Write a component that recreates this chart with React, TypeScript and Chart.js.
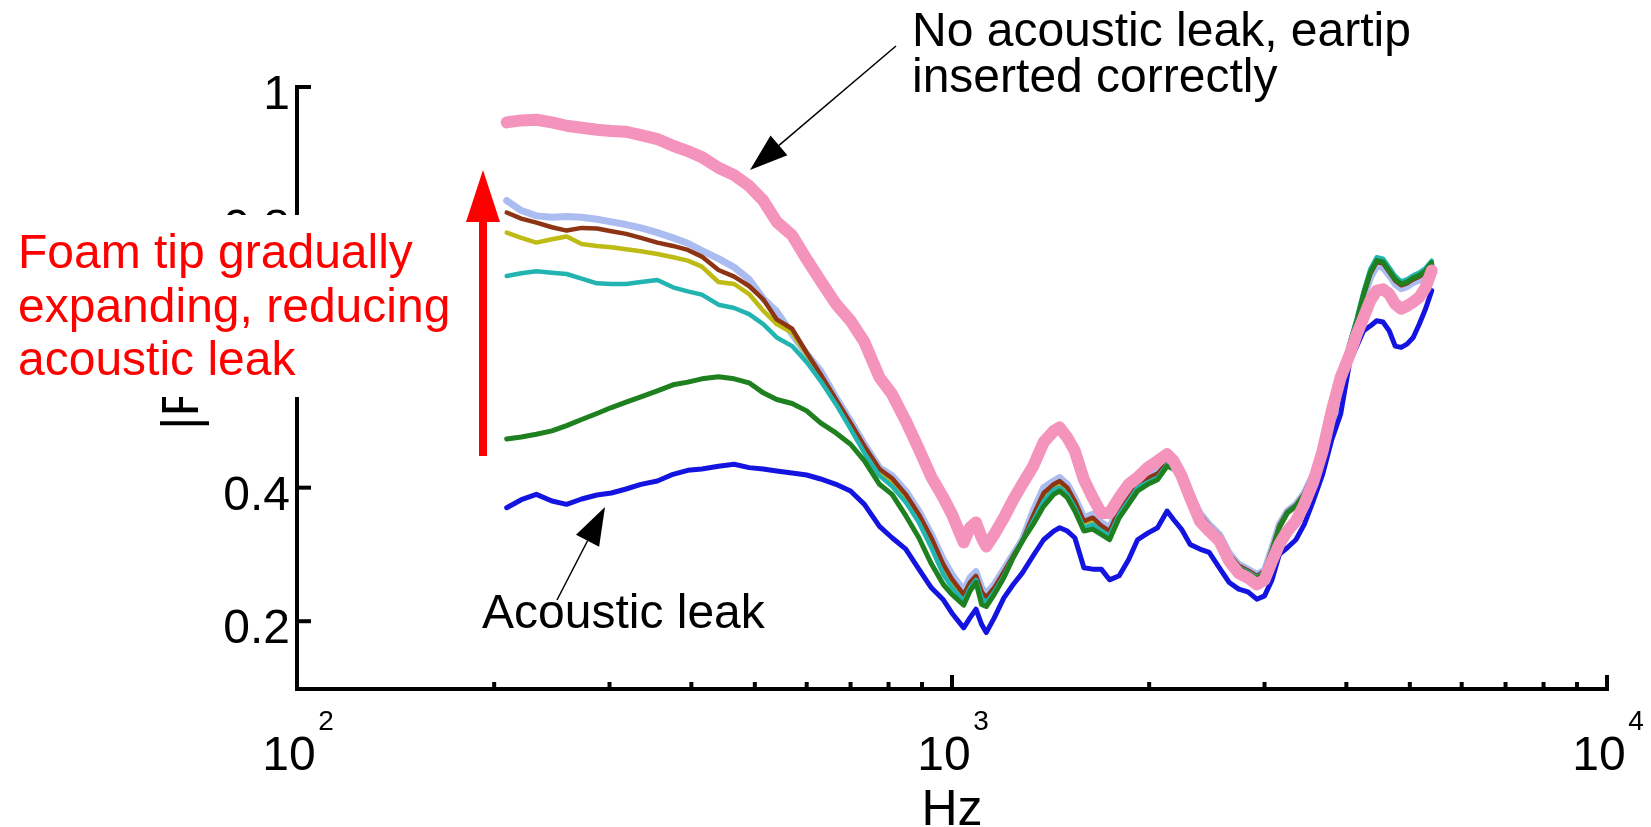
import React, { useEffect, useRef } from "react";
import { Chart, registerables } from "chart.js";

Chart.register(...registerables);

// Frequency grid (Hz)
const FREQ_HZ = [
  209, 220, 232, 245, 258, 272, 287, 302, 318, 335,
  355, 375, 395, 415, 440, 465, 490, 515, 540, 570,
  600, 630, 665, 700, 735, 775, 810, 850, 890, 930,
  970, 1000, 1042, 1065, 1088, 1110, 1128, 1160, 1200, 1240,
  1280, 1330, 1380, 1430, 1460, 1500, 1540, 1590, 1640, 1690,
  1740, 1800, 1860, 1920, 1990, 2060, 2130, 2180, 2240, 2310,
  2390, 2470, 2560, 2650, 2740, 2830, 2920, 3000, 3080, 3160,
  3250, 3350, 3450, 3560, 3680, 3800, 3920, 4050, 4150, 4250,
  4350, 4450, 4550, 4650, 4750, 4850, 4950, 5060, 5170, 5285,
  5400,
];

// No acoustic leak, eartip inserted correctly (pink)
const PINK_SEALED = [
  0.947, 0.950, 0.951, 0.947, 0.942, 0.939, 0.936, 0.934, 0.933, 0.928,
  0.922, 0.912, 0.904, 0.895, 0.879, 0.868, 0.852, 0.830, 0.798, 0.778,
  0.742, 0.710, 0.675, 0.650, 0.618, 0.565, 0.540, 0.500, 0.458, 0.416,
  0.385, 0.360, 0.318, 0.340, 0.348, 0.325, 0.312, 0.330, 0.355, 0.382,
  0.405, 0.432, 0.468, 0.485, 0.490, 0.475, 0.455, 0.412, 0.385, 0.362,
  0.362, 0.385, 0.405, 0.415, 0.430, 0.440, 0.450, 0.440, 0.418, 0.385,
  0.350, 0.335, 0.320, 0.290, 0.272, 0.265, 0.255, 0.262, 0.290, 0.315,
  0.335, 0.350, 0.375, 0.408, 0.455, 0.515, 0.565, 0.600, 0.630, 0.655,
  0.680, 0.695, 0.697, 0.690, 0.675, 0.668, 0.672, 0.678, 0.685, 0.700,
  0.725,
];

// Acoustic leak (blue)
const BLUE_LEAK = [
  0.370, 0.382, 0.390, 0.380, 0.375, 0.383, 0.389, 0.392, 0.398, 0.405,
  0.410, 0.420, 0.426, 0.428, 0.432, 0.435, 0.430, 0.428, 0.425, 0.422,
  0.419, 0.413, 0.405, 0.395, 0.375, 0.342, 0.325, 0.308, 0.278, 0.250,
  0.232, 0.212, 0.190, 0.205, 0.218, 0.195, 0.183, 0.205, 0.235, 0.255,
  0.272, 0.298, 0.322, 0.335, 0.340, 0.335, 0.325, 0.280, 0.278, 0.278,
  0.262, 0.268, 0.292, 0.322, 0.332, 0.340, 0.365, 0.352, 0.338, 0.315,
  0.308, 0.303, 0.280, 0.258, 0.248, 0.244, 0.233, 0.238, 0.262, 0.300,
  0.310, 0.322, 0.345, 0.380, 0.420, 0.472, 0.510, 0.590, 0.612, 0.635,
  0.642, 0.650, 0.648, 0.635, 0.612, 0.610, 0.615, 0.625, 0.645, 0.668,
  0.695,
];

const GREEN_STEP1 = [
  0.473, 0.476, 0.480, 0.485, 0.493, 0.502, 0.511, 0.520, 0.528, 0.536,
  0.545, 0.554, 0.558, 0.563, 0.566, 0.563, 0.557, 0.542, 0.532, 0.526,
  0.515, 0.497, 0.482, 0.465, 0.440, 0.405, 0.390, 0.358, 0.325, 0.286,
  0.255, 0.240, 0.224, 0.245, 0.258, 0.225, 0.222, 0.240, 0.265, 0.295,
  0.320, 0.345, 0.372, 0.390, 0.395, 0.385, 0.365, 0.335, 0.338, 0.330,
  0.322, 0.355, 0.375, 0.395, 0.405, 0.412, 0.432, 0.428, 0.415, 0.388,
  0.357, 0.340, 0.325, 0.298, 0.280, 0.272, 0.264, 0.272, 0.305, 0.340,
  0.362, 0.372, 0.390, 0.418, 0.450, 0.492, 0.558, 0.615, 0.650, 0.690,
  0.722, 0.740, 0.738, 0.725, 0.712, 0.705, 0.708, 0.714, 0.718, 0.725,
  0.737,
];

const TEAL_STEP2 = [
  0.717, 0.721, 0.724, 0.722, 0.720, 0.713, 0.706, 0.705, 0.705, 0.708,
  0.711, 0.700, 0.694, 0.689, 0.674, 0.669, 0.660, 0.645, 0.625, 0.612,
  0.588, 0.560, 0.525, 0.488, 0.452, 0.418, 0.402, 0.378, 0.348, 0.310,
  0.270, 0.250, 0.230, 0.250, 0.262, 0.235, 0.228, 0.244, 0.268, 0.296,
  0.320, 0.350, 0.380, 0.397, 0.400, 0.390, 0.370, 0.340, 0.345, 0.335,
  0.328, 0.360, 0.380, 0.400, 0.408, 0.415, 0.434, 0.429, 0.416, 0.389,
  0.358, 0.341, 0.326, 0.299, 0.281, 0.274, 0.266, 0.273, 0.306, 0.341,
  0.363, 0.373, 0.390, 0.419, 0.451, 0.493, 0.560, 0.618, 0.654, 0.694,
  0.727, 0.745, 0.743, 0.730, 0.717, 0.709, 0.712, 0.718, 0.722, 0.729,
  0.740,
];

const YELLOW_STEP3 = [
  0.782, 0.774, 0.767, 0.772, 0.776, 0.765, 0.762, 0.760, 0.757, 0.754,
  0.750, 0.745, 0.740, 0.731, 0.708, 0.705, 0.690, 0.665, 0.645, 0.632,
  0.600, 0.568, 0.530, 0.494, 0.458, 0.424, 0.410, 0.386, 0.355, 0.320,
  0.280, 0.258, 0.236, 0.254, 0.265, 0.240, 0.233, 0.247, 0.272, 0.296,
  0.318, 0.355, 0.388, 0.402, 0.406, 0.396, 0.377, 0.347, 0.352, 0.340,
  0.332, 0.365, 0.385, 0.403, 0.411, 0.418, 0.435, 0.429, 0.417, 0.389,
  0.359, 0.342, 0.327, 0.299, 0.282, 0.275, 0.267, 0.274, 0.307, 0.342,
  0.363, 0.373, 0.390, 0.419, 0.451, 0.493, 0.559, 0.616, 0.651, 0.691,
  0.723, 0.741, 0.739, 0.726, 0.713, 0.706, 0.709, 0.715, 0.719, 0.726,
  0.737,
];

const BROWN_STEP4 = [
  0.812, 0.803, 0.797, 0.790, 0.785, 0.789, 0.788, 0.784, 0.780, 0.774,
  0.767, 0.762, 0.756, 0.746, 0.726, 0.716, 0.702, 0.682, 0.652, 0.638,
  0.602, 0.570, 0.532, 0.497, 0.462, 0.428, 0.414, 0.390, 0.360, 0.325,
  0.285, 0.263, 0.240, 0.258, 0.268, 0.244, 0.236, 0.250, 0.274, 0.298,
  0.320, 0.358, 0.392, 0.405, 0.410, 0.400, 0.380, 0.350, 0.355, 0.343,
  0.335, 0.368, 0.388, 0.406, 0.414, 0.421, 0.437, 0.430, 0.418, 0.390,
  0.360, 0.343, 0.328, 0.300, 0.283, 0.276, 0.268, 0.275, 0.308, 0.343,
  0.364, 0.374, 0.391, 0.420, 0.452, 0.494, 0.560, 0.614, 0.648, 0.688,
  0.720, 0.738, 0.736, 0.723, 0.710, 0.703, 0.706, 0.712, 0.716, 0.723,
  0.736,
];

const LIGHTBLUE_STEP5 = [
  0.830, 0.815, 0.807, 0.805, 0.806, 0.805, 0.802, 0.798, 0.794, 0.789,
  0.782, 0.774, 0.766, 0.755, 0.743, 0.730, 0.712, 0.683, 0.664, 0.630,
  0.600, 0.575, 0.535, 0.500, 0.465, 0.430, 0.418, 0.395, 0.365, 0.330,
  0.292, 0.270, 0.246, 0.265, 0.274, 0.250, 0.241, 0.255, 0.278, 0.300,
  0.322, 0.365, 0.400, 0.410, 0.415, 0.405, 0.385, 0.355, 0.360, 0.348,
  0.340, 0.372, 0.392, 0.410, 0.418, 0.425, 0.440, 0.432, 0.420, 0.392,
  0.362, 0.345, 0.330, 0.302, 0.285, 0.278, 0.270, 0.276, 0.310, 0.345,
  0.365, 0.375, 0.392, 0.420, 0.452, 0.493, 0.558, 0.611, 0.644, 0.683,
  0.714, 0.732, 0.730, 0.718, 0.705, 0.698, 0.701, 0.707, 0.711, 0.718,
  0.732,
];

const Y_TICKS = [0.2, 0.4, 0.6, 0.8, 1];
const Y_TICK_LABELS = ["0.2", "0.4", "0.6", "0.8", "1"];
const X_DECADES = [100, 1000, 10000];
const X_DECADE_EXP = ["2", "3", "4"];
const X_LABEL = "Hz";
const Y_LABEL = "|FRF|";
const RED_NOTE = ["Foam tip gradually", "expanding, reducing", "acoustic leak"];
const TOP_NOTE = ["No acoustic leak, eartip", "inserted correctly"];
const LEAK_NOTE = "Acoustic leak";

const FONT = '"Liberation Sans", Arial, Helvetica, sans-serif';

function arrow(ctx: CanvasRenderingContext2D, fx: number, fy: number, tx: number, ty: number, len: number, half: number, lw: number, color: string) {
  const ang = Math.atan2(ty - fy, tx - fx);
  const bx = tx - Math.cos(ang) * len;
  const by = ty - Math.sin(ang) * len;
  ctx.strokeStyle = color;
  ctx.lineWidth = lw;
  ctx.beginPath();
  ctx.moveTo(fx, fy);
  ctx.lineTo(bx, by);
  ctx.stroke();
  ctx.fillStyle = color;
  ctx.beginPath();
  ctx.moveTo(tx, ty);
  ctx.lineTo(bx + Math.sin(ang) * half, by - Math.cos(ang) * half);
  ctx.lineTo(bx - Math.sin(ang) * half, by + Math.cos(ang) * half);
  ctx.closePath();
  ctx.fill();
}

const overlay = {
  id: "overlay",
  afterDraw(chart: any) {
    const ctx: CanvasRenderingContext2D = chart.ctx;
    const xs = chart.scales.x;
    const ys = chart.scales.y;
    const x0 = xs.getPixelForValue(100);
    const x1 = xs.getPixelForValue(10000);
    const yb = ys.getPixelForValue(0.1) + 1;
    const yt = ys.getPixelForValue(1);
    ctx.save();
    ctx.strokeStyle = "#000";
    ctx.fillStyle = "#000";
    ctx.lineCap = "butt";

    // axes
    ctx.lineWidth = 4;
    ctx.beginPath();
    ctx.moveTo(x0, yt - 2);
    ctx.lineTo(x0, yb);
    ctx.lineTo(x1 + 2, yb);
    ctx.stroke();

    // y ticks + labels
    ctx.font = `48px ${FONT}`;
    ctx.textAlign = "right";
    ctx.textBaseline = "alphabetic";
    Y_TICKS.forEach((v, i) => {
      const y = ys.getPixelForValue(v);
      ctx.beginPath();
      ctx.moveTo(x0, y);
      ctx.lineTo(x0 + 14, y);
      ctx.stroke();
      ctx.fillText(Y_TICK_LABELS[i], x0 - 7, y + 22);
    });

    // x ticks
    X_DECADES.forEach((d, i) => {
      const px = xs.getPixelForValue(d);
      ctx.lineWidth = 4;
      ctx.beginPath();
      ctx.moveTo(px, yb);
      ctx.lineTo(px, yb - 14);
      ctx.stroke();
      if (i < X_DECADES.length - 1) {
        for (let m = 2; m <= 9; m++) {
          const mx = xs.getPixelForValue(d * m);
          ctx.beginPath();
          ctx.moveTo(mx, yb);
          ctx.lineTo(mx, yb - 7);
          ctx.stroke();
        }
      }
      ctx.textAlign = "center";
      ctx.font = `48px ${FONT}`;
      ctx.fillText("10", px - 8, 770);
      ctx.font = `28px ${FONT}`;
      ctx.fillText(X_DECADE_EXP[i], px + 29, 730);
    });

    // x label
    ctx.font = `50px ${FONT}`;
    ctx.textAlign = "center";
    ctx.fillText(X_LABEL, xs.getPixelForValue(1000), 825);

    // y label
    ctx.save();
    ctx.translate(198, 430);
    ctx.rotate(-Math.PI / 2);
    ctx.textAlign = "left";
    ctx.font = `52px ${FONT}`;
    ctx.fillText(Y_LABEL, 0, 0);
    ctx.restore();

    // white box behind red note
    ctx.fillStyle = "#fff";
    ctx.fillRect(8, 215, 450, 182);

    // red note
    ctx.fillStyle = "#ff0000";
    ctx.font = `48px ${FONT}`;
    ctx.textAlign = "left";
    RED_NOTE.forEach((t, i) => ctx.fillText(t, 18, 268 + i * 53.5));

    // red arrow
    ctx.fillRect(479, 218, 8, 238);
    ctx.beginPath();
    ctx.moveTo(483, 170);
    ctx.lineTo(466, 222);
    ctx.lineTo(500, 222);
    ctx.closePath();
    ctx.fill();

    // black annotations
    ctx.fillStyle = "#000";
    ctx.font = `48px ${FONT}`;
    TOP_NOTE.forEach((t, i) => ctx.fillText(t, 912, 46 + i * 46));
    ctx.fillText(LEAK_NOTE, 482, 628);
    arrow(ctx, 896, 46, 750, 170, 38, 13, 1.5, "#000");
    arrow(ctx, 557, 600, 605, 507, 38, 13, 1.5, "#000");

    ctx.restore();
  },
};

function series(vals: number[]) {
  return FREQ_HZ.map((f, i) => ({ x: f, y: vals[i] }));
}

export default function App() {
  const ref = useRef<HTMLCanvasElement | null>(null);
  useEffect(() => {
    if (!ref.current) return;
    const chart = new Chart(ref.current, {
      type: "line",
      data: {
        datasets: [
          { label: "sealed", data: series(PINK_SEALED), borderColor: "#f493bc", borderWidth: 12 },
          { label: "leak", data: series(BLUE_LEAK), borderColor: "#1414e0", borderWidth: 5 },
          { label: "s1", data: series(GREEN_STEP1), borderColor: "#1f801f", borderWidth: 5 },
          { label: "s2", data: series(TEAL_STEP2), borderColor: "#22b4b0", borderWidth: 4.5 },
          { label: "s4", data: series(BROWN_STEP4), borderColor: "#8c3414", borderWidth: 4.5 },
          { label: "s3", data: series(YELLOW_STEP3), borderColor: "#bdbb14", borderWidth: 4.5 },
          { label: "s5", data: series(LIGHTBLUE_STEP5), borderColor: "#aabcf0", borderWidth: 7 },
        ],
      },
      options: {
        responsive: false,
        animation: false,
        layout: { padding: { left: 297, right: 44, top: 87, bottom: 139 } },
        plugins: { legend: { display: false }, tooltip: { enabled: false } },
        elements: {
          point: { radius: 0 },
          line: { tension: 0, borderJoinStyle: "round", borderCapStyle: "round" },
        },
        scales: {
          x: { type: "logarithmic", min: 100, max: 10000, display: false },
          y: { type: "linear", min: 0.1, max: 1.0, display: false },
        },
      } as any,
      plugins: [overlay],
    });
    return () => chart.destroy();
  }, []);
  return (
    <div style={{ position: "fixed", left: 0, top: 0, width: 1651, height: 827, background: "#fff" }}>
      <canvas ref={ref} width={1651} height={827} style={{ display: "block" }} />
    </div>
  );
}
